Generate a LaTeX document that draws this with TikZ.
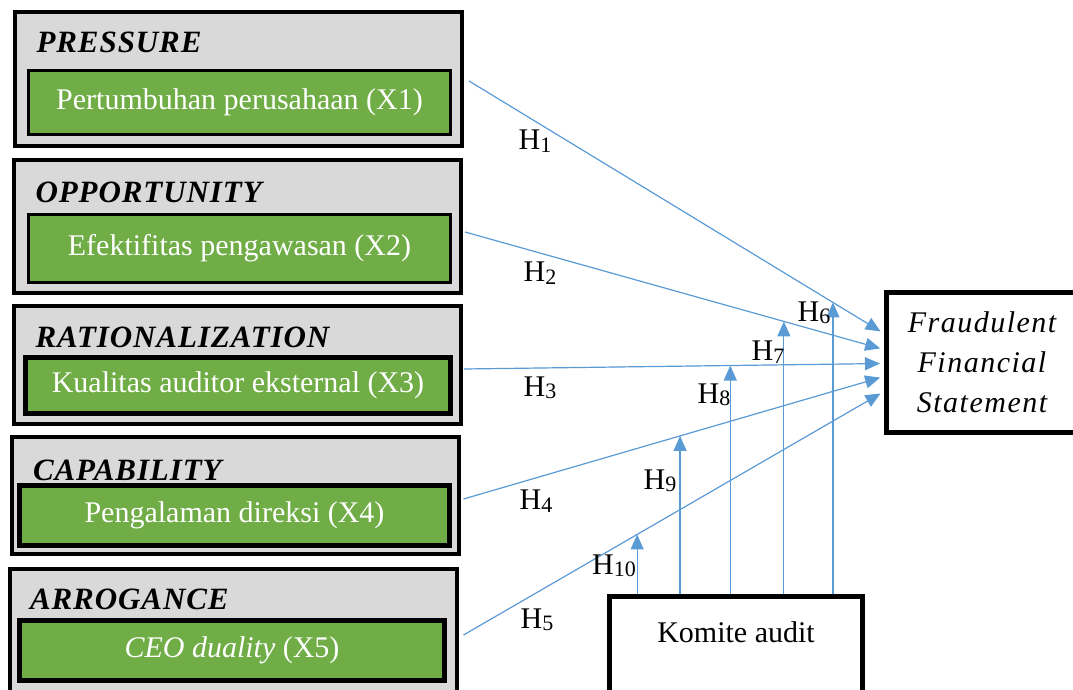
\documentclass[tikz,border=0pt]{standalone}
\usepackage{fontspec}
\setmainfont{Liberation Serif}
\usetikzlibrary{arrows.meta,calc}
\definecolor{factorgray}{HTML}{D9D9D9}
\definecolor{vargreen}{HTML}{70AD47}
\definecolor{hypblue}{HTML}{5B9BD5}
\newcommand{\hlabel}[1]{H\raisebox{-2.5pt}{\fontsize{22}{22}\selectfont #1}}

\begin{document}
\begin{tikzpicture}[x=1pt,y=-1pt,>={Triangle[length=15pt,width=13pt]},
  font=\fontsize{30}{40}\selectfont,
  factorbox/.style={draw,line width=4pt,fill=factorgray,minimum width=447pt,inner sep=0pt},
  varbox/.style={draw,fill=vargreen,text=white,inner sep=0pt},
  targetbox/.style={draw,line width=5pt,fill=white,inner sep=0pt},
  titletext/.style={font=\fontsize{31}{40}\selectfont\bfseries\itshape\addfontfeature{LetterSpace=3},anchor=base west},
  hyp/.style={draw=hypblue,fill=hypblue,line width=1.2pt,->,shorten >=4pt}]
 \useasboundingbox (0,0) rectangle (1073,690);

 % fraud pentagon
 \node[factorbox,minimum height=134pt] (pressure) at (238.5,79) {};
 \node[factorbox,minimum height=133pt] (opportunity) at (237.5,226.5) {};
 \node[factorbox,minimum height=118pt] (rationalization) at (237.5,365) {};
 \node[factorbox,minimum height=117pt] (capability) at (235,495.5) {};
 \node[factorbox,minimum height=133pt] (arrogance) at (233,635) {};

 \node[titletext] (tpressure) at ([shift={(20,43)}]pressure.north west) {PRESSURE};
 \node[titletext] (topportunity) at ([shift={(20,44)}]opportunity.north west) {OPPORTUNITY};
 \node[titletext] (trationalization) at ([shift={(20,43)}]rationalization.north west) {RATIONALIZATION};
 \node[titletext] (tcapability) at ([shift={(20,45)}]capability.north west) {CAPABILITY};
 \node[titletext] (tarrogance) at ([shift={(19,43)}]arrogance.north west) {ARROGANCE};

 \node[varbox,line width=3pt,minimum width=422pt,minimum height=64pt] (x1) at (239.5,102.5) {Pertumbuhan perusahaan (X1)};
 \node[varbox,line width=3pt,minimum width=422pt,minimum height=68pt] (x2) at (239.5,248.5) {Efektifitas pengawasan (X2)};
 \node[varbox,line width=5pt,minimum width=425pt,minimum height=56pt] (x3) at (238,385.5) {Kualitas auditor eksternal (X3)};
 \node[varbox,line width=5pt,minimum width=430pt,minimum height=60pt] (x4) at (234.5,515.5) {Pengalaman direksi (X4)};
 \node[varbox,line width=5pt,minimum width=425pt,minimum height=60pt] (x5) at (232,650.5) {\textit{CEO duality} (X5)};

 % dependent and moderating variable
 \node[targetbox,minimum width=191pt,minimum height=140pt,align=center,font=\fontsize{30}{40}\selectfont\itshape\addfontfeature{LetterSpace=5}] (ffs) at (982,362.5) {Fraudulent\\Financial\\Statement};
 \node[targetbox,anchor=north,minimum width=253pt,text height=46pt,text depth=70pt] (komite) at (736,594) {Komite audit};

 % hypotheses
 \draw[hyp] ([shift={(5,2)}]pressure.east) -- coordinate[pos=.877] (m6) ([yshift=29pt]ffs.west);
 \draw[hyp] ([shift={(2,5.5)}]opportunity.east) -- coordinate[pos=.761] (m7) ([yshift=13pt]ffs.west);
 \draw[hyp] ([shift={(1,4)}]rationalization.east) -- coordinate[pos=.634] (m8) ([yshift=-1pt]ffs.west);
 \draw[hyp] ([shift={(3,3.5)}]capability.east) -- coordinate[pos=.515] (m9) ([yshift=-14pt]ffs.west);
 \draw[hyp] ([shift={(5,0)}]arrogance.east) -- coordinate[pos=.413] (m10) ([yshift=-29pt]ffs.west);

 \draw[hyp,shorten >=0pt] (komite.north -| m6) -- (m6);
 \draw[hyp,shorten >=0pt] (komite.north -| m7) -- (m7);
 \draw[hyp,shorten >=0pt] (komite.north -| m8) -- (m8);
 \draw[hyp,shorten >=0pt] (komite.north -| m9) -- (m9);
 \draw[hyp,shorten >=0pt] (komite.north -| m10) -- (m10);

 \node (h1) at (535,141) {\hlabel{1}};
 \node (h2) at (540,273) {\hlabel{2}};
 \node (h3) at (540,388) {\hlabel{3}};
 \node (h4) at (536,501) {\hlabel{4}};
 \node (h5) at (537,620) {\hlabel{5}};
 \node (h6) at (814,313) {\hlabel{6}};
 \node (h7) at (768,352) {\hlabel{7}};
 \node (h8) at (714,395) {\hlabel{8}};
 \node (h9) at (660,481) {\hlabel{9}};
 \node (h10) at (614,566) {\hlabel{10}};
\end{tikzpicture}
\end{document}
